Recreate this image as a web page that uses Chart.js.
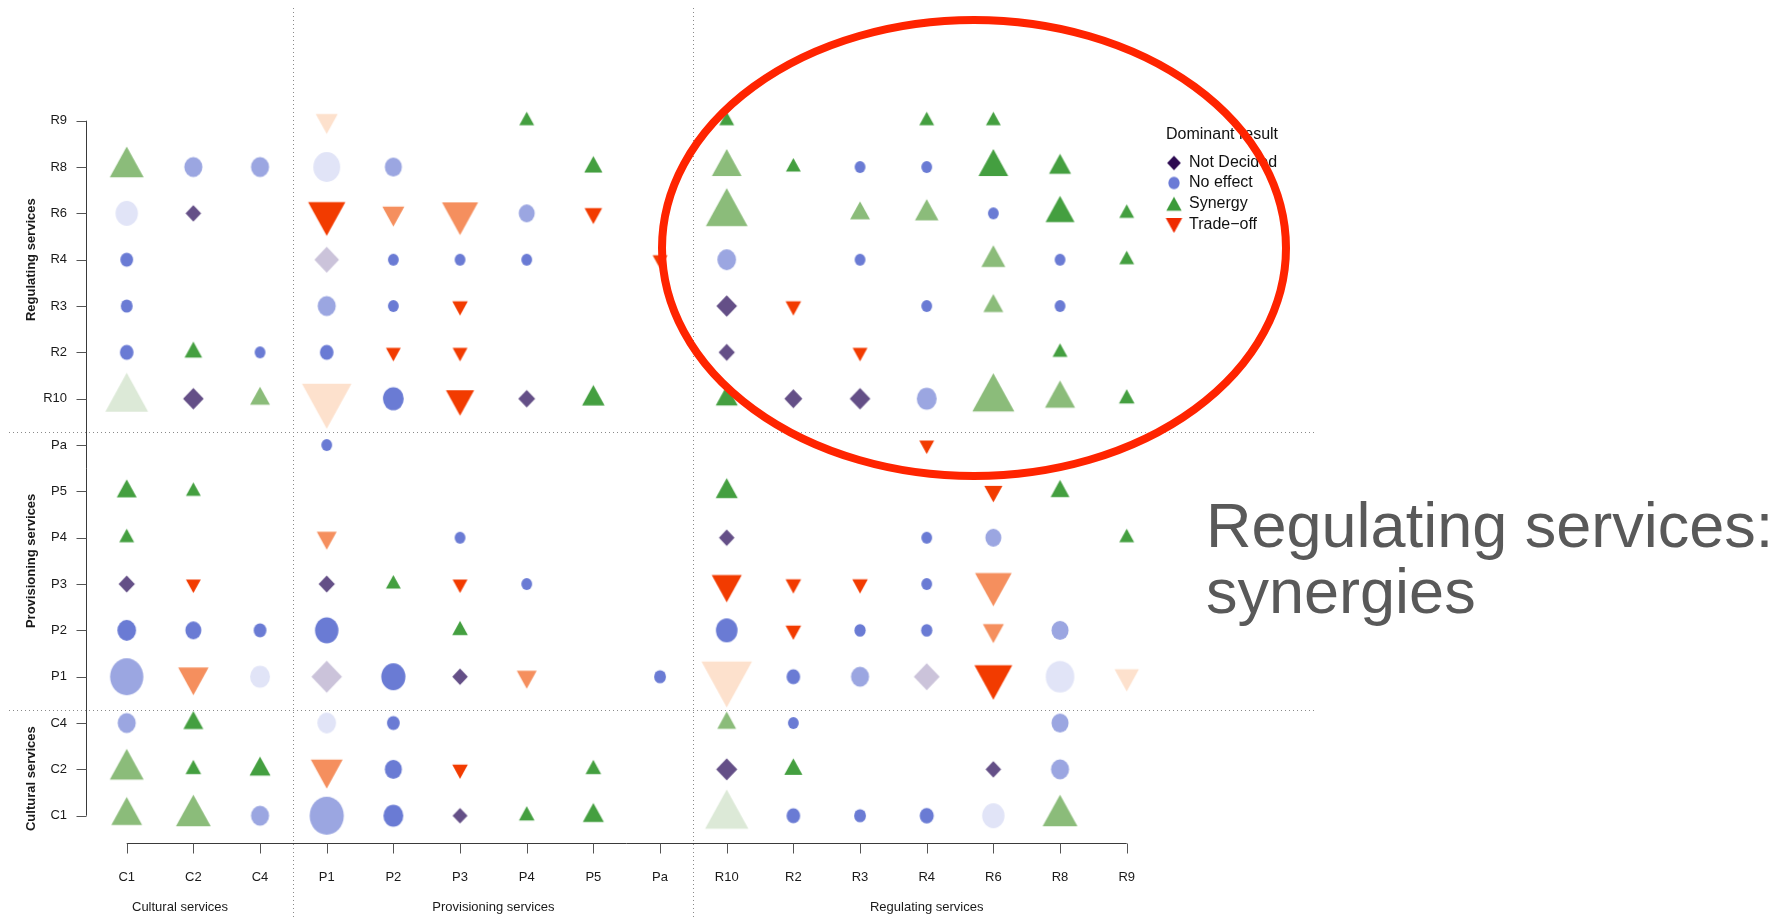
<!DOCTYPE html>
<html>
<head>
<meta charset="utf-8">
<title>Dominant result by service pair</title>
<script src="https://cdn.jsdelivr.net/npm/chart.js@4.4.1/dist/chart.umd.min.js"></script>
<style>
  html, body { margin: 0; padding: 0; background: #fff; }
  #wrap { width: 1792px; height: 917px; }
</style>
</head>
<body>
<div id="wrap"><canvas id="chart" width="1792" height="917"></canvas></div>
<script>
// categories, used on both axes (index 0 = C1 ... 15 = R9)
var cats = ['C1', 'C2', 'C4', 'P1', 'P2', 'P3', 'P4', 'P5', 'Pa', 'R10', 'R2', 'R3', 'R4', 'R6', 'R8', 'R9'];
var groups = ['Cultural services', 'Provisioning services', 'Regulating services'];
var legendTitle = 'Dominant result';
var legendLabels = ['Not Decided', 'No effect', 'Synergy', 'Trade\u2212off'];
var noteLines = ['Regulating services:', 'synergies'];

// [x service, y service, weight, shade 1 = dark .. 3 = pale]
var notDecided = [
  ['C2', 'R6', 1.2, 1], ['P1', 'R4', 3, 3], ['R10', 'R3', 2.1, 1], ['R10', 'R2', 1.3, 1],
  ['C2', 'R10', 2.1, 1], ['P4', 'R10', 1.4, 1], ['R2', 'R10', 1.6, 1], ['R3', 'R10', 2.1, 1],
  ['R10', 'P4', 1.2, 1], ['C1', 'P3', 1.3, 1], ['P1', 'P3', 1.3, 1],
  ['P1', 'P1', 4.6, 3], ['P3', 'P1', 1.2, 1], ['R4', 'P1', 3.3, 3],
  ['R10', 'C2', 2.2, 1], ['R6', 'C2', 1.2, 1], ['P3', 'C1', 1.1, 1]
];
var noEffect = [
  ['C2', 'R8', 2.8, 2], ['C4', 'R8', 2.8, 2], ['P1', 'R8', 6.2, 3], ['P2', 'R8', 2.5, 2], ['R3', 'R8', 1, 1], ['R4', 'R8', 1, 1],
  ['C1', 'R6', 4.3, 3], ['P4', 'R6', 2.2, 2], ['R6', 'R6', 1, 1],
  ['C1', 'R4', 1.4, 1], ['P2', 'R4', 1, 1], ['P3', 'R4', 1, 1], ['P4', 'R4', 1, 1], ['R10', 'R4', 3, 2], ['R3', 'R4', 1, 1], ['R8', 'R4', 1, 1],
  ['C1', 'R3', 1.2, 1], ['P1', 'R3', 2.8, 2], ['P2', 'R3', 1, 1], ['R4', 'R3', 1, 1], ['R8', 'R3', 1, 1],
  ['C1', 'R2', 1.6, 1], ['C4', 'R2', 1, 1], ['P1', 'R2', 1.6, 1],
  ['P2', 'R10', 3.7, 1], ['R4', 'R10', 3.4, 2],
  ['P1', 'Pa', 1, 1],
  ['P3', 'P4', 1, 1], ['R4', 'P4', 1, 1], ['R6', 'P4', 2.2, 2],
  ['P4', 'P3', 1, 1], ['R4', 'P3', 1, 1],
  ['C1', 'P2', 3, 1], ['C2', 'P2', 2.2, 1], ['C4', 'P2', 1.4, 1], ['P1', 'P2', 4.7, 1], ['R10', 'P2', 4, 1], ['R3', 'P2', 1.1, 1], ['R4', 'P2', 1.1, 1], ['R8', 'P2', 2.5, 2],
  ['C1', 'P1', 9.5, 2], ['C4', 'P1', 3.4, 3], ['P2', 'P1', 5, 1], ['Pa', 'P1', 1.2, 1], ['R2', 'P1', 1.6, 1], ['R3', 'P1', 2.8, 2], ['R8', 'P1', 7, 3],
  ['C1', 'C4', 2.8, 2], ['P1', 'C4', 3, 3], ['P2', 'C4', 1.4, 1], ['R2', 'C4', 1, 1], ['R8', 'C4', 2.5, 2],
  ['P2', 'C2', 2.5, 1], ['R8', 'C2', 2.8, 2],
  ['C4', 'C1', 2.8, 2], ['P1', 'C1', 10, 2], ['P2', 'C1', 3.4, 1], ['R2', 'C1', 1.6, 1], ['R3', 'C1', 1.2, 1], ['R4', 'C1', 1.7, 1], ['R6', 'C1', 4.3, 3]
];
var synergy = [
  ['P4', 'R9', 1, 1], ['R10', 'R9', 1, 1], ['R4', 'R9', 1, 1], ['R6', 'R9', 1, 1],
  ['C1', 'R8', 5.2, 2], ['P5', 'R8', 1.5, 1], ['R10', 'R8', 4, 2], ['R2', 'R8', 1, 1], ['R6', 'R8', 4, 1], ['R8', 'R8', 2.2, 1],
  ['R10', 'R6', 7.9, 2], ['R3', 'R6', 1.8, 2], ['R4', 'R6', 2.5, 2], ['R8', 'R6', 3.8, 1], ['R9', 'R6', 1, 1],
  ['R6', 'R4', 2.6, 2], ['R9', 'R4', 1, 1],
  ['R6', 'R3', 1.8, 2],
  ['C2', 'R2', 1.4, 1], ['R8', 'R2', 1, 1],
  ['C1', 'R10', 8.3, 3], ['C4', 'R10', 1.8, 2], ['P5', 'R10', 2.3, 1], ['R10', 'R10', 2.2, 1], ['R6', 'R10', 8, 2], ['R8', 'R10', 4.1, 2], ['R9', 'R10', 1.1, 1],
  ['C1', 'P5', 1.8, 1], ['C2', 'P5', 1, 1], ['R10', 'P5', 2.2, 1], ['R8', 'P5', 1.6, 1],
  ['C1', 'P4', 1, 1], ['R9', 'P4', 1, 1],
  ['P2', 'P3', 1, 1],
  ['P3', 'P2', 1.1, 1],
  ['C2', 'C4', 1.8, 1], ['R10', 'C4', 1.6, 2],
  ['C1', 'C2', 5.2, 2], ['C2', 'C2', 1.1, 1], ['C4', 'C2', 2, 1], ['P5', 'C2', 1.1, 1], ['R2', 'C2', 1.5, 1],
  ['C1', 'C1', 4.3, 2], ['C2', 'C1', 5.5, 2], ['P4', 'C1', 1.1, 1], ['P5', 'C1', 2, 1], ['R10', 'C1', 8.5, 3], ['R8', 'C1', 5.5, 2]
];
var tradeOff = [
  ['P1', 'R9', 2.2, 3],
  ['P1', 'R6', 6.3, 1], ['P2', 'R6', 2.2, 2], ['P3', 'R6', 5.9, 2], ['P5', 'R6', 1.4, 1],
  ['Pa', 'R4', 1, 1],
  ['P3', 'R3', 1.1, 1], ['R2', 'R3', 1.1, 1],
  ['P2', 'R2', 1, 1], ['P3', 'R2', 1, 1], ['R3', 'R2', 1, 1],
  ['P1', 'R10', 11.1, 3], ['P3', 'R10', 3.6, 1],
  ['R4', 'Pa', 1, 1],
  ['R6', 'P5', 1.5, 1],
  ['P1', 'P4', 1.8, 2],
  ['C2', 'P3', 1, 1], ['P3', 'P3', 1, 1], ['R10', 'P3', 4.1, 1], ['R2', 'P3', 1.1, 1], ['R3', 'P3', 1.1, 1], ['R6', 'P3', 6.1, 2],
  ['R2', 'P2', 1.1, 1], ['R6', 'P2', 2, 2],
  ['C2', 'P1', 4.2, 2], ['P4', 'P1', 1.8, 2], ['R10', 'P1', 11.6, 3], ['R6', 'P1', 6.5, 1], ['R9', 'P1', 2.7, 3],
  ['P1', 'C2', 4.6, 2], ['P3', 'C2', 1.1, 1]
];

// shades per result
var purples = { 1: '#644f87', 2: '#9a8db4', 3: '#cbc3da' };
var blues = { 1: '#6a7bd4', 2: '#9ba6e1', 3: '#e1e4f7' };
var greens = { 1: '#449f40', 2: '#8bbc7a', 3: '#dce9d7' };
var reds = { 1: '#f23b00', 2: '#f58f5e', 3: '#fde1cd' };

var FONT = '"Liberation Sans", Arial, sans-serif';

// marker images (the original plot is a bit squeezed sideways)
var markerCache = {};
function marker(shape, color, h) {
  var key = shape + color + h.toFixed(1);
  if (markerCache[key]) return markerCache[key];
  var c = document.createElement('canvas');
  var w, cx, cy, g;
  if (shape === 'circle') {
    w = h * 0.9;
    c.width = Math.ceil(w) + 2; c.height = Math.ceil(h) + 2;
    cx = c.width / 2; cy = c.height / 2;
    g = c.getContext('2d');
    g.beginPath();
    g.ellipse(cx, cy, w / 2, h / 2, 0, 0, Math.PI * 2);
  } else if (shape === 'diamond') {
    w = h * 0.95;
    c.width = Math.ceil(w) + 2; c.height = Math.ceil(h) + 2;
    cx = c.width / 2; cy = c.height / 2;
    g = c.getContext('2d');
    g.beginPath();
    g.moveTo(cx, cy - h / 2); g.lineTo(cx + w / 2, cy);
    g.lineTo(cx, cy + h / 2); g.lineTo(cx - w / 2, cy);
    g.closePath();
  } else {
    // centroid sits on the point, like R's triangles
    w = h * 1.1;
    var r = h * 2 / 3;
    c.width = Math.ceil(w) + 2; c.height = Math.ceil(2 * r) + 2;
    cx = c.width / 2; cy = c.height / 2;
    g = c.getContext('2d');
    g.beginPath();
    var s = shape === 'up' ? 1 : -1;
    g.moveTo(cx, cy - s * r);
    g.lineTo(cx + w / 2, cy + s * h / 3);
    g.lineTo(cx - w / 2, cy + s * h / 3);
    g.closePath();
  }
  g.fillStyle = color;
  g.fill();
  markerCache[key] = c;
  return c;
}

function build(rows, shape, shades, base) {
  return {
    data: rows.map(function (r) {
      return { x: cats.indexOf(r[0]), y: cats.indexOf(r[1]), n: r[2], s: r[3] };
    }),
    pointStyle: function (ctx) {
      var d = ctx.raw;
      if (!d) return 'circle';
      return marker(shape, shades[d.s], base * Math.sqrt(d.n));
    },
    pointRadius: 5,
    showLine: false,
    clip: false
  };
}

var decor = {
  id: 'decor',
  beforeDatasetsDraw: function (chart) {
    var c = chart.ctx, sx = chart.scales.x, sy = chart.scales.y;
    var i;
    c.save();

    // dotted group separators
    c.strokeStyle = '#8a8a8a';
    c.lineWidth = 1;
    c.setLineDash([1, 3]);
    [2.5, 8.5].forEach(function (v) {
      var px = Math.round(sx.getPixelForValue(v)) + 0.5;
      c.beginPath(); c.moveTo(px, 8); c.lineTo(px, 917); c.stroke();
    });
    [2.28, 8.28].forEach(function (v) {
      var py = Math.round(sy.getPixelForValue(v)) + 0.5;
      c.beginPath(); c.moveTo(9, py); c.lineTo(1317, py); c.stroke();
    });
    c.setLineDash([]);

    // R style axes
    var axY = 843.5, axX = 86.5;
    c.strokeStyle = '#3a3a3a';
    c.beginPath();
    c.moveTo(sx.getPixelForValue(0), axY); c.lineTo(sx.getPixelForValue(15), axY);
    c.moveTo(axX, sy.getPixelForValue(15)); c.lineTo(axX, sy.getPixelForValue(0));
    c.stroke();
    c.strokeStyle = '#555';
    c.beginPath();
    for (i = 0; i < cats.length; i++) {
      var tx = Math.round(sx.getPixelForValue(i)) + 0.5;
      c.moveTo(tx, axY); c.lineTo(tx, axY + 10);
      var ty = Math.round(sy.getPixelForValue(i)) + 0.5;
      c.moveTo(axX - 10, ty); c.lineTo(axX, ty);
    }
    c.stroke();

    c.fillStyle = '#1a1a1a';
    c.font = '13px ' + FONT;
    c.textBaseline = 'middle';
    c.textAlign = 'center';
    for (i = 0; i < cats.length; i++) c.fillText(cats[i], sx.getPixelForValue(i), 877);
    c.textAlign = 'right';
    for (i = 0; i < cats.length; i++) c.fillText(cats[i], 67, sy.getPixelForValue(i));

    // group titles
    var groupAt = [0.8, 5.5, 12];
    c.textAlign = 'center';
    for (i = 0; i < groups.length; i++) c.fillText(groups[i], sx.getPixelForValue(groupAt[i]), 907);
    c.font = 'bold 13px ' + FONT;
    c.textBaseline = 'alphabetic';
    for (i = 0; i < groups.length; i++) {
      c.save();
      c.translate(35, sy.getPixelForValue(groupAt[i]));
      c.rotate(-Math.PI / 2);
      c.fillText(groups[i], 0, 0);
      c.restore();
    }

    // legend
    c.font = '16px ' + FONT;
    c.textBaseline = 'middle';
    c.textAlign = 'left';
    c.fillStyle = '#111';
    c.fillText(legendTitle, 1166, 135);
    var ly = [163, 183, 204, 225];
    var lm = [
      marker('diamond', '#2d0a51', 14.5),
      marker('circle', '#6b7bd6', 12.5),
      marker('up', '#3c9a3a', 14),
      marker('down', '#ef2a00', 15)
    ];
    var off = [0, 0, 2, -2];
    for (i = 0; i < legendLabels.length; i++) {
      var m = lm[i];
      c.drawImage(m, 1174 - m.width / 2, ly[i] + off[i] - m.height / 2);
      c.fillText(legendLabels[i], 1189, ly[i]);
    }
    c.restore();
  },
  afterDraw: function (chart) {
    var c = chart.ctx;
    c.save();
    c.strokeStyle = '#ff2400';
    c.lineWidth = 8;
    c.beginPath();
    c.ellipse(974, 248, 312, 228, 0, 0, Math.PI * 2);
    c.stroke();

    c.fillStyle = '#595959';
    c.font = '63px ' + FONT;
    c.textAlign = 'left';
    c.textBaseline = 'alphabetic';
    c.fillText(noteLines[0], 1206, 547);
    c.fillText(noteLines[1], 1206, 613);
    c.restore();
  }
};

new Chart(document.getElementById('chart'), {
  type: 'scatter',
  data: {
    datasets: [
      build(notDecided, 'diamond', purples, 15),
      build(noEffect, 'circle', blues, 12),
      build(synergy, 'up', greens, 13.5),
      build(tradeOff, 'down', reds, 13.5)
    ]
  },
  options: {
    responsive: false,
    animation: false,
    events: [],
    devicePixelRatio: 1,
    layout: { padding: { left: 126.7, right: 665.3, top: 120.7, bottom: 101.3 } },
    scales: {
      x: { type: 'linear', min: 0, max: 15, display: false },
      y: { type: 'linear', min: 0, max: 15, display: false }
    },
    plugins: { legend: { display: false }, tooltip: { enabled: false } }
  },
  plugins: [decor]
});
</script>
</body>
</html>
